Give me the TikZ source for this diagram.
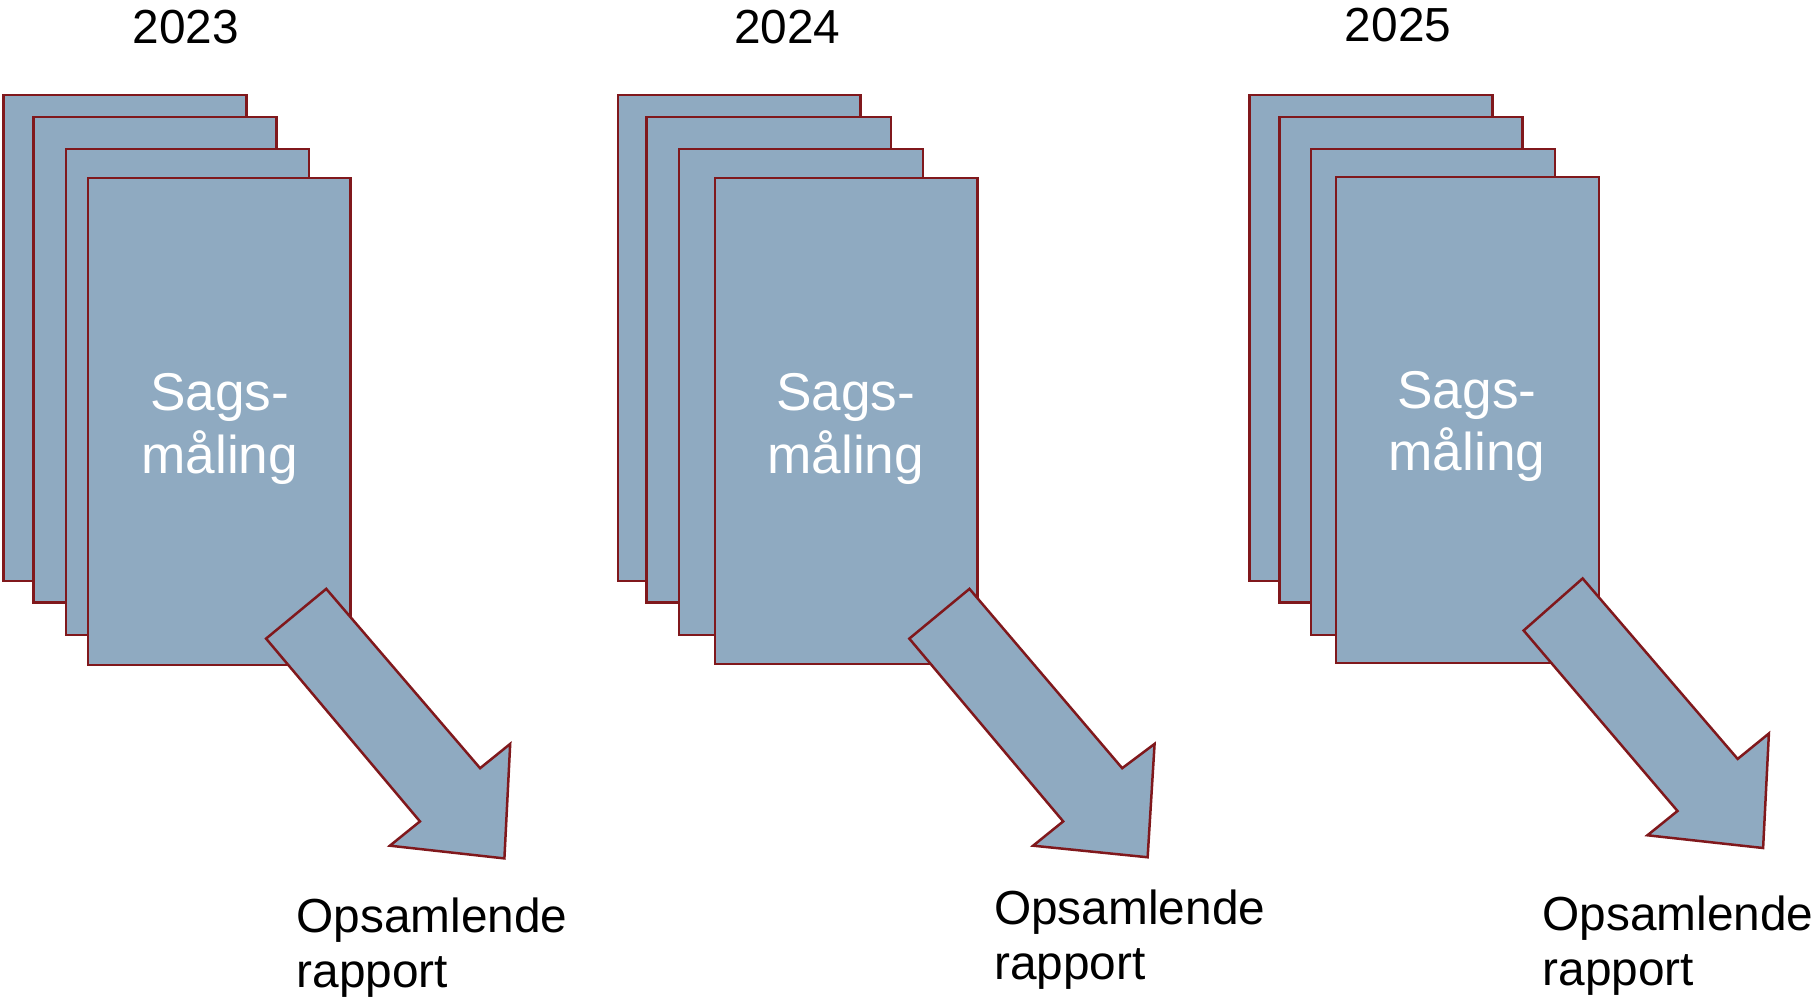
\documentclass[tikz,border=0pt]{standalone}
\usepackage{fontspec}
\setmainfont{Liberation Sans}
\definecolor{sheetfill}{RGB}{143,170,193}
\definecolor{sheetline}{RGB}{128,24,28}
\begin{document}
\begin{tikzpicture}[x=0.578444pt,y=-0.578444pt,
  sheet/.style={fill=sheetfill,draw=sheetline,line width=1.25pt},
  blockarrow/.style={fill=sheetfill,draw=sheetline,line width=1.25pt,line join=miter},
  yearlabel/.style={font=\fontsize{23.9}{28}\selectfont,inner sep=0pt,anchor=center},
  sheettext/.style={font=\fontsize{26.6}{31}\selectfont,text=white,inner sep=0pt,anchor=base},
  report/.style={font=\fontsize{23.9}{28}\selectfont,inner sep=0pt,anchor=base west}]
\useasboundingbox (0,0) rectangle (1568,864);

% ---------- 2023 ----------
\node[yearlabel] (y1) at (160.5,23) {2023};
\draw[sheet] (3,82) rectangle (213,502);
\draw[sheet] (29,101) rectangle (239,521);
\draw[sheet] (57,129) rectangle (267,549);
\draw[sheet] (76,154) rectangle (303,575);
\node[sheettext] (s1a) at (190,355) {Sags-};
\node[sheettext] (s1b) at (190,409) {måling};
\draw[blockarrow] (282,509) -- (415,664) -- (441,643) -- (436,742) -- (337,731) -- (363,710) -- (230,552) -- cycle;
\node[report] (r1a) at (256,806) {Opsamlende};
\node[report] (r1b) at (256,854) {rapport};

% ---------- 2024 ----------
\node[yearlabel] (y2) at (680.5,23) {2024};
\draw[sheet] (534,82) rectangle (744,502);
\draw[sheet] (559,101) rectangle (770,521);
\draw[sheet] (587,129) rectangle (798,549);
\draw[sheet] (618,154) rectangle (845,574);
\node[sheettext] (s2a) at (731,355) {Sags-};
\node[sheettext] (s2b) at (731,409) {måling};
\draw[blockarrow] (838,509) -- (970,664) -- (998,643) -- (992,741) -- (893,731) -- (919,710) -- (786,552) -- cycle;
\node[report] (r2a) at (859,799) {Opsamlende};
\node[report] (r2b) at (859,847) {rapport};

% ---------- 2025 ----------
\node[yearlabel] (y3) at (1208.5,22) {2025};
\draw[sheet] (1080,82) rectangle (1290,502);
\draw[sheet] (1106,101) rectangle (1316,521);
\draw[sheet] (1133,129) rectangle (1344,549);
\draw[sheet] (1155,153) rectangle (1382,573);
\node[sheettext] (s3a) at (1268,353) {Sags-};
\node[sheettext] (s3b) at (1268,407) {måling};
\draw[blockarrow] (1368,500) -- (1502,656) -- (1529,634) -- (1524,733) -- (1424,722) -- (1450,701) -- (1317,545) -- cycle;
\node[report] (r3a) at (1333,804) {Opsamlende};
\node[report] (r3b) at (1333,852) {rapport};
\end{tikzpicture}
\end{document}
